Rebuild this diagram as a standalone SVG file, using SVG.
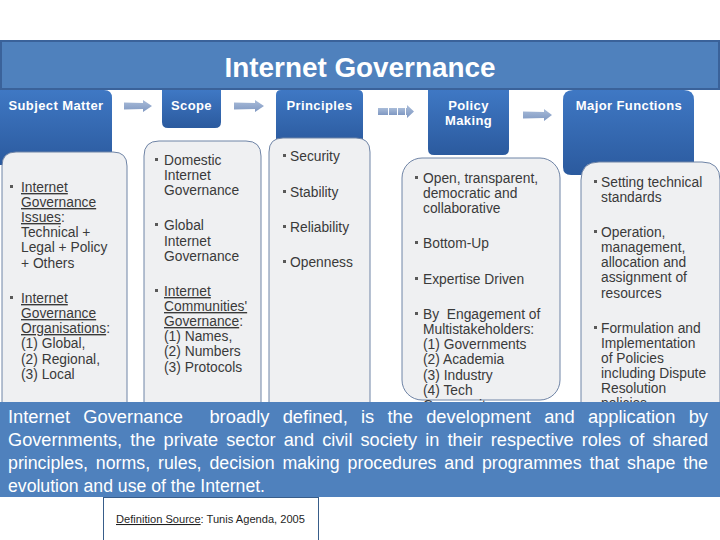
<svg xmlns="http://www.w3.org/2000/svg" width="720" height="540" viewBox="0 0 720 540">
  <defs>
    <linearGradient id="tabGrad" x1="0" y1="0" x2="0" y2="1">
      <stop offset="0" stop-color="#3F78C4"/>
      <stop offset="1" stop-color="#2B5A9E"/>
    </linearGradient>
    <linearGradient id="arrGrad" x1="0" y1="0" x2="0" y2="1">
      <stop offset="0" stop-color="#A9BCD9"/>
      <stop offset="1" stop-color="#7F98C2"/>
    </linearGradient>
    <clipPath id="aboveBand">
      <rect x="0" y="0" width="720" height="402"/>
    </clipPath>
    <style>
      .tab { fill: url(#tabGrad); }
      .box { fill: #EFF0F2; stroke: #6F84A6; stroke-width: 1; }
      .hd { font-family: "Liberation Sans", Arial, sans-serif; font-size: 13px; font-weight: bold; fill: #FFFFFF; letter-spacing: 0.4px; }
      .t { font-family: "Liberation Sans", Arial, sans-serif; font-size: 13.8px; fill: #3A3A3A; }
      .u { text-decoration: underline; }
      .bul { fill: #595959; }
      .arr { fill: url(#arrGrad); }
      .band { font-family: "Liberation Sans", Arial, sans-serif; font-size: 18px; fill: #FFFFFF; }
    </style>
  </defs>

  <rect x="0" y="0" width="720" height="540" fill="#FFFFFF"/>

  <!-- Title bar -->
  <g id="title">
    <rect x="1" y="41" width="718" height="48" fill="#4F81BD" stroke="#3A629A" stroke-width="2"/>
    <text x="360" y="77" text-anchor="middle" font-family="Liberation Sans, Arial, sans-serif" font-size="27" font-weight="bold" fill="#FFFFFF" textLength="271" lengthAdjust="spacingAndGlyphs">Internet Governance</text>
  </g>

  <!-- Subject Matter -->
  <g id="subject-matter">
    <path class="tab" d="M0,90 H104 Q112,90 112,98 V165 H0 Z"/>
    <text class="hd" x="56" y="110" text-anchor="middle">Subject Matter</text>
    <path class="box" d="M2,405 V166 Q2,152 16,152 H113 Q127,152 127,166 V405"/>
    <rect class="bul" x="10" y="185" width="3" height="3"/>
    <text class="t" x="21"><tspan x="21" y="192" class="u">Internet</tspan><tspan x="21" y="207" class="u">Governance</tspan><tspan x="21" y="222"><tspan class="u">Issues</tspan>:</tspan><tspan x="21" y="237">Technical +</tspan><tspan x="21" y="252">Legal + Policy</tspan><tspan x="21" y="268">+ Others</tspan></text>
    <rect class="bul" x="10" y="296" width="3" height="3"/>
    <text class="t" x="21"><tspan x="21" y="303" class="u">Internet</tspan><tspan x="21" y="318" class="u">Governance</tspan><tspan x="21" y="333"><tspan class="u">Organisations</tspan>:</tspan><tspan x="21" y="348">(1) Global,</tspan><tspan x="21" y="364">(2) Regional,</tspan><tspan x="21" y="379">(3) Local</tspan></text>
  </g>

  <!-- Scope -->
  <g id="scope">
    <path class="tab" d="M162,90 H221 V122 Q221,128 215,128 H168 Q162,128 162,122 Z"/>
    <text class="hd" x="191.5" y="110" text-anchor="middle">Scope</text>
    <path class="box" d="M144,405 V156 Q144,141 159,141 H246 Q261,141 261,156 V405"/>
    <rect class="bul" x="155" y="158" width="3" height="3"/>
    <text class="t"><tspan x="164" y="165">Domestic</tspan><tspan x="164" y="180">Internet</tspan><tspan x="164" y="195">Governance</tspan></text>
    <rect class="bul" x="155" y="223" width="3" height="3"/>
    <text class="t"><tspan x="164" y="230">Global</tspan><tspan x="164" y="246">Internet</tspan><tspan x="164" y="261">Governance</tspan></text>
    <rect class="bul" x="155" y="289" width="3" height="3"/>
    <text class="t"><tspan x="164" y="296" class="u">Internet</tspan><tspan x="164" y="311" class="u">Communities'</tspan><tspan x="164" y="326"><tspan class="u">Governance</tspan>:</tspan><tspan x="164" y="341">(1) Names,</tspan><tspan x="164" y="356">(2) Numbers</tspan><tspan x="164" y="372">(3) Protocols</tspan></text>
  </g>

  <!-- Principles -->
  <g id="principles">
    <path class="tab" d="M276,95 Q276,90 281,90 H358 Q363,90 363,95 V145 H276 Z"/>
    <text class="hd" x="319.5" y="110" text-anchor="middle">Principles</text>
    <path class="box" d="M269,405 V152 Q269,138 283,138 H356 Q370,138 370,152 V405"/>
    <rect class="bul" x="283" y="154" width="3" height="3"/>
    <text class="t" x="290" y="161">Security</text>
    <rect class="bul" x="283" y="190" width="3" height="3"/>
    <text class="t" x="290" y="197">Stability</text>
    <rect class="bul" x="283" y="225" width="3" height="3"/>
    <text class="t" x="290" y="232">Reliability</text>
    <rect class="bul" x="283" y="260" width="3" height="3"/>
    <text class="t" x="290" y="267">Openness</text>
  </g>

  <!-- Policy Making -->
  <g id="policy-making">
    <path class="tab" d="M428,90 H509 V149 Q509,155 503,155 H434 Q428,155 428,149 Z"/>
    <text class="hd" text-anchor="middle"><tspan x="468.5" y="110">Policy</tspan><tspan x="468.5" y="125">Making</tspan></text>
    <rect class="box" x="402" y="158" width="158" height="242" rx="20" ry="20"/>
    <rect class="bul" x="415" y="176" width="3" height="3"/>
    <text class="t"><tspan x="423" y="183">Open, transparent,</tspan><tspan x="423" y="198">democratic and</tspan><tspan x="423" y="213">collaborative</tspan></text>
    <rect class="bul" x="415" y="241" width="3" height="3"/>
    <text class="t" x="423" y="248">Bottom-Up</text>
    <rect class="bul" x="415" y="277" width="3" height="3"/>
    <text class="t" x="423" y="284">Expertise Driven</text>
    <rect class="bul" x="415" y="312" width="3" height="3"/>
    <text class="t" xml:space="preserve"><tspan x="423" y="319">By  Engagement of</tspan><tspan x="423" y="334">Multistakeholders:</tspan><tspan x="423" y="349">(1) Governments</tspan><tspan x="423" y="364">(2) Academia</tspan><tspan x="423" y="380">(3) Industry</tspan><tspan x="423" y="395">(4) Tech</tspan></text>
    <text class="t" x="423" y="410" clip-path="url(#aboveBand)">Community</text>
  </g>

  <!-- Major Functions -->
  <g id="major-functions">
    <path class="tab" d="M563,100 Q563,90 573,90 H684 Q694,90 694,100 V175 H571 Q563,175 563,167 Z"/>
    <text class="hd" x="629" y="110" text-anchor="middle">Major Functions</text>
    <path class="box" d="M581,405 V180 Q581,162 599,162 H702 Q720,162 720,180 V405"/>
    <rect class="bul" x="594" y="180" width="3" height="3"/>
    <text class="t"><tspan x="601" y="187">Setting technical</tspan><tspan x="601" y="202">standards</tspan></text>
    <rect class="bul" x="594" y="230" width="3" height="3"/>
    <text class="t"><tspan x="601" y="237">Operation,</tspan><tspan x="601" y="252">management,</tspan><tspan x="601" y="267">allocation and</tspan><tspan x="601" y="282">assignment of</tspan><tspan x="601" y="298">resources</tspan></text>
    <rect class="bul" x="594" y="326" width="3" height="3"/>
    <text class="t"><tspan x="601" y="333">Formulation and</tspan><tspan x="601" y="348">Implementation</tspan><tspan x="601" y="363">of Policies</tspan><tspan x="601" y="378">including Dispute</tspan><tspan x="601" y="393">Resolution</tspan></text>
    <text class="t" x="601" y="408" clip-path="url(#aboveBand)">policies</text>
  </g>

  <!-- Connectors (block arrows) -->
  <g id="connectors">
    <polygon class="arr" points="124,102.5 143,103 143,100 152,106 143,112 143,109 124,109.5"/>
    <polygon class="arr" points="234,102.5 255,103 255,100 264,106 255,112 255,109 234,109.5"/>
    <rect class="arr" x="378" y="108" width="10" height="7"/>
    <rect class="arr" x="389" y="108" width="8" height="7"/>
    <rect class="arr" x="398" y="108" width="7" height="7"/>
    <polygon class="arr" points="406,108 407,108 407,105 414,111.5 407,118 407,115 406,115"/>
    <polygon class="arr" points="523,111.5 544,112 544,109 552,115 544,121 544,118 523,118.5"/>
  </g>

  <!-- Definition band -->
  <g id="definition">
    <rect x="0" y="402" width="720" height="95" fill="#4F81BD"/>
    <text class="band" x="8" y="423" textLength="700" lengthAdjust="spacingAndGlyphs" word-spacing="8" xml:space="preserve">Internet Governance  broadly defined, is the development and application by</text>
    <text class="band" x="8" y="446" textLength="700" lengthAdjust="spacingAndGlyphs" word-spacing="3">Governments, the private sector and civil society in their respective roles of shared</text>
    <text class="band" x="8" y="469" textLength="700" lengthAdjust="spacingAndGlyphs" word-spacing="3">principles, norms, rules, decision making procedures and programmes that shape the</text>
    <text class="band" x="8" y="492" textLength="257" lengthAdjust="spacingAndGlyphs">evolution and use of the Internet.</text>
  </g>

  <!-- Source box -->
  <g id="source">
    <rect x="103.5" y="497.5" width="215" height="50" fill="#FFFFFF" stroke="#385D8A" stroke-width="1"/>
    <text x="116" y="523" font-family="Liberation Sans, Arial, sans-serif" font-size="10.5" fill="#1F1F1F" textLength="189" lengthAdjust="spacingAndGlyphs"><tspan text-decoration="underline">Definition Source</tspan>: Tunis Agenda, 2005</text>
  </g>
</svg>
